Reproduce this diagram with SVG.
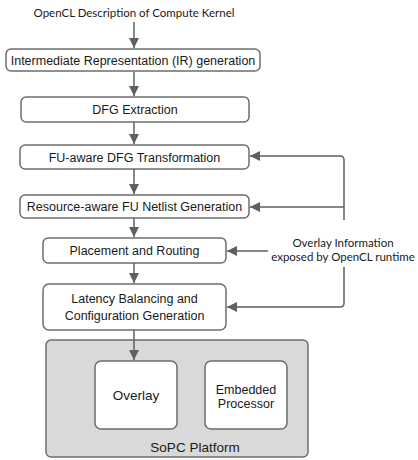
<svg xmlns="http://www.w3.org/2000/svg" width="418" height="460" viewBox="0 0 418 460">
<defs>
<marker id="ah" viewBox="0 0 10 10" refX="10" refY="5" markerWidth="10" markerHeight="10" markerUnits="userSpaceOnUse" orient="auto">
<path d="M0,0 L10,5 L0,10 Z" fill="#5f5f5f"/>
</marker>
<style>
.box{fill:#fff;stroke:#6e6e6e;stroke-width:1.5}
.t{font-family:"Liberation Sans",Arial,sans-serif;font-size:12.5px;fill:#1a1a1a;text-anchor:middle}
.b{font-size:13.5px}
.c{font-family:Lato,"Open Sans",sans-serif;font-size:11.5px;fill:#1a1a1a;text-anchor:middle}
.ln{fill:none;stroke:#5f5f5f;stroke-width:1.5}
</style>
</defs>
<rect width="418" height="460" fill="#fff"/>
<text class="c" x="134" y="17">OpenCL Description of Compute Kernel</text>
<g id="n1"><rect class="box" x="6" y="49" width="254" height="22" rx="5"/><text class="t" x="133" y="65">Intermediate Representation (IR) generation</text></g>
<g id="n2"><rect class="box" x="21" y="97" width="228" height="25" rx="5"/><text class="t" x="135" y="114">DFG Extraction</text></g>
<g id="n3"><rect class="box" x="20" y="145" width="229" height="24" rx="5"/><text class="t" x="134.5" y="161.5">FU-aware DFG Transformation</text></g>
<g id="n4"><rect class="box" x="20" y="195" width="229" height="23" rx="5"/><text class="t" x="134.5" y="211">Resource-aware FU Netlist Generation</text></g>
<g id="n5"><rect class="box" x="43" y="238" width="183" height="25" rx="5"/><text class="t" x="134.5" y="255">Placement and Routing</text></g>
<g id="n6"><rect class="box" x="43" y="284" width="183" height="46" rx="6"/><text class="t" x="134.5" y="303">Latency Balancing and</text><text class="t" x="134.5" y="320">Configuration Generation</text></g>
<g id="sopc"><rect x="46" y="340" width="262" height="117" rx="5" fill="#d9d9d9" stroke="#6e6e6e" stroke-width="1.5"/><text class="t b" x="195" y="452">SoPC Platform</text></g>
<g id="overlay"><rect class="box" x="95" y="361" width="82" height="68" rx="6"/><text class="t b" x="136" y="400">Overlay</text></g>
<g id="proc"><rect class="box" x="205" y="361" width="82" height="68" rx="6"/><text class="t" x="246" y="393.5">Embedded</text><text class="t" x="246" y="407.5">Processor</text></g>
<g id="info"><text class="c" x="343" y="247">Overlay Information</text><text class="c" x="343" y="261">exposed by OpenCL runtime</text></g>
<g id="connectors">
<line class="ln" x1="134" y1="22" x2="134" y2="48" marker-end="url(#ah)"/>
<line class="ln" x1="134" y1="72" x2="134" y2="96" marker-end="url(#ah)"/>
<line class="ln" x1="134" y1="122" x2="134" y2="144" marker-end="url(#ah)"/>
<line class="ln" x1="134" y1="169" x2="134" y2="194" marker-end="url(#ah)"/>
<line class="ln" x1="134" y1="218" x2="134" y2="237" marker-end="url(#ah)"/>
<line class="ln" x1="134" y1="263" x2="134" y2="283" marker-end="url(#ah)"/>
<line class="ln" x1="134" y1="330" x2="134" y2="360" marker-end="url(#ah)"/>
<path class="ln" d="M344,220 V160 Q344,156 340,156 H250" marker-end="url(#ah)"/>
<line class="ln" x1="344" y1="207" x2="250" y2="207" marker-end="url(#ah)"/>
<line class="ln" x1="268" y1="251" x2="227" y2="251" marker-end="url(#ah)"/>
<path class="ln" d="M344,267 V303 Q344,307 340,307 H227" marker-end="url(#ah)"/>
</g>
</svg>
